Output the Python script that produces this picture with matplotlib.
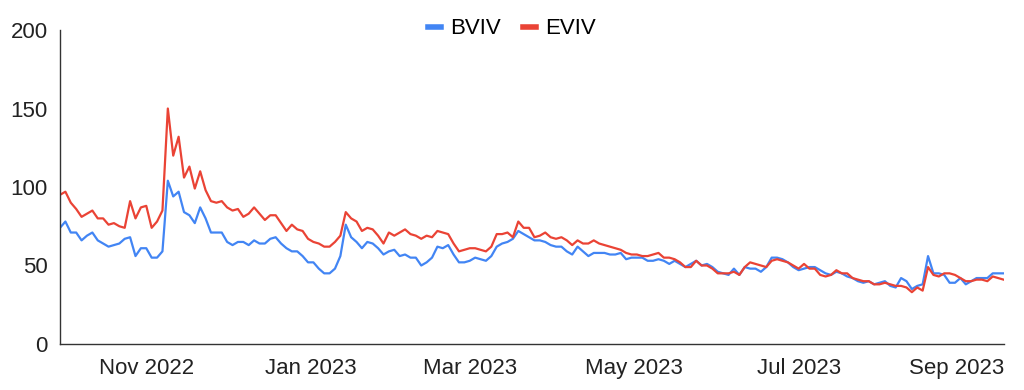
import matplotlib
matplotlib.use("Agg")
from matplotlib import pyplot as plt
import matplotlib.dates as mdates
import matplotlib.transforms as mtransforms
import pandas as pd

plt.rcParams['font.family'] = ['Liberation Sans', 'DejaVu Sans']

# fechas cada 2 dias
fechas = pd.date_range('2022-09-30', periods=176, freq='2D')

bviv = [74, 78, 71, 71, 66, 69, 71, 66, 64, 62,
        63, 64, 67, 68, 56, 61, 61, 55, 55, 59,
        104, 94, 97, 84, 82, 77, 87, 80, 71, 71,
        71, 65, 63, 65, 65, 63, 66, 64, 64, 67,
        68, 64, 61, 59, 59, 56, 52, 52, 48, 45,
        45, 48, 56, 76, 68, 65, 61, 65, 64, 61,
        57, 59, 60, 56, 57, 55, 55, 50, 52, 55,
        62, 61, 63, 57, 52, 52, 53, 55, 54, 53,
        56, 62, 64, 65, 67, 72, 70, 68, 66, 66,
        65, 63, 62, 62, 59, 57, 62, 59, 56, 58,
        58, 58, 57, 57, 58, 54, 55, 55, 55, 53,
        53, 54, 53, 51, 53, 51, 49, 51, 53, 50,
        51, 49, 46, 45, 44, 48, 44, 49, 48, 48,
        46, 49, 55, 55, 54, 52, 49, 47, 48, 49,
        49, 47, 45, 44, 46, 45, 43, 42, 40, 39,
        40, 38, 39, 40, 37, 36, 42, 40, 35, 37,
        38, 56, 45, 45, 44, 39, 39, 42, 38, 40,
        42, 42, 42, 45, 45, 45]

eviv = [95, 97, 90, 86, 81, 83, 85, 80, 80, 76,
        77, 75, 74, 91, 80, 87, 88, 74, 78, 85,
        150, 120, 132, 106, 113, 99, 110, 98, 91, 90,
        91, 87, 85, 86, 81, 83, 87, 83, 79, 82,
        82, 77, 72, 76, 73, 72, 67, 65, 64, 62,
        62, 65, 69, 84, 80, 78, 72, 74, 73, 69,
        64, 71, 69, 71, 73, 70, 69, 67, 69, 68,
        72, 71, 70, 64, 59, 60, 61, 61, 60, 59,
        62, 70, 70, 71, 68, 78, 74, 74, 68, 69,
        71, 68, 67, 68, 66, 63, 66, 64, 64, 66,
        64, 63, 62, 61, 60, 58, 57, 57, 56, 56,
        57, 58, 55, 55, 54, 52, 49, 49, 53, 50,
        50, 48, 45, 45, 45, 46, 44, 49, 52, 51,
        50, 49, 53, 54, 53, 52, 50, 48, 51, 48,
        48, 44, 43, 44, 47, 45, 45, 42, 41, 40,
        40, 38, 38, 39, 38, 37, 37, 36, 33, 36,
        34, 49, 44, 43, 45, 45, 44, 42, 40, 40,
        41, 41, 40, 43, 42, 41]

fig = plt.figure(figsize=(10.24, 3.9), dpi=100)
ax = fig.add_axes([0.0586, 0.118, 0.9214, 0.805])

ax.plot(fechas, bviv, color='#4285F4', linewidth=1.6, label='BVIV')
ax.plot(fechas, eviv, color='#EA4335', linewidth=1.6, label='EVIV')

ax.set_ylim(0, 200)
ax.set_yticks([0, 50, 100, 150, 200])
ax.set_xlim(fechas[0], fechas[-1])
ax.xaxis.set_major_locator(mdates.MonthLocator(bymonth=[1, 3, 5, 7, 9, 11]))
ax.xaxis.set_major_formatter(mdates.DateFormatter('%b %Y'))
ax.tick_params(axis='both', length=0, labelsize=16, colors='#222222')
ax.tick_params(axis='y', pad=9)
ax.tick_params(axis='x', pad=10)

for lado in ['top', 'right']:
    ax.spines[lado].set_visible(False)
for lado in ['left', 'bottom']:
    ax.spines[lado].set_color('#333333')
    ax.spines[lado].set_linewidth(1)

# la ultima etiqueta queda un poco a la izquierda, como en el original
fig.canvas.draw()
ultima = ax.get_xticklabels()[-1]
ultima.set_transform(ultima.get_transform() +
                     mtransforms.ScaledTranslation(-0.09, 0, fig.dpi_scale_trans))

fig.legend(loc='center', bbox_to_anchor=(0.5, 1 - 29 / 390), ncol=2,
           frameon=False, fontsize=16, handlelength=0.6, handletextpad=0.4,
           columnspacing=1.0)
for h in fig.legends[0].legend_handles:
    h.set_linewidth(4)

fig.savefig('out.png', dpi=100)
